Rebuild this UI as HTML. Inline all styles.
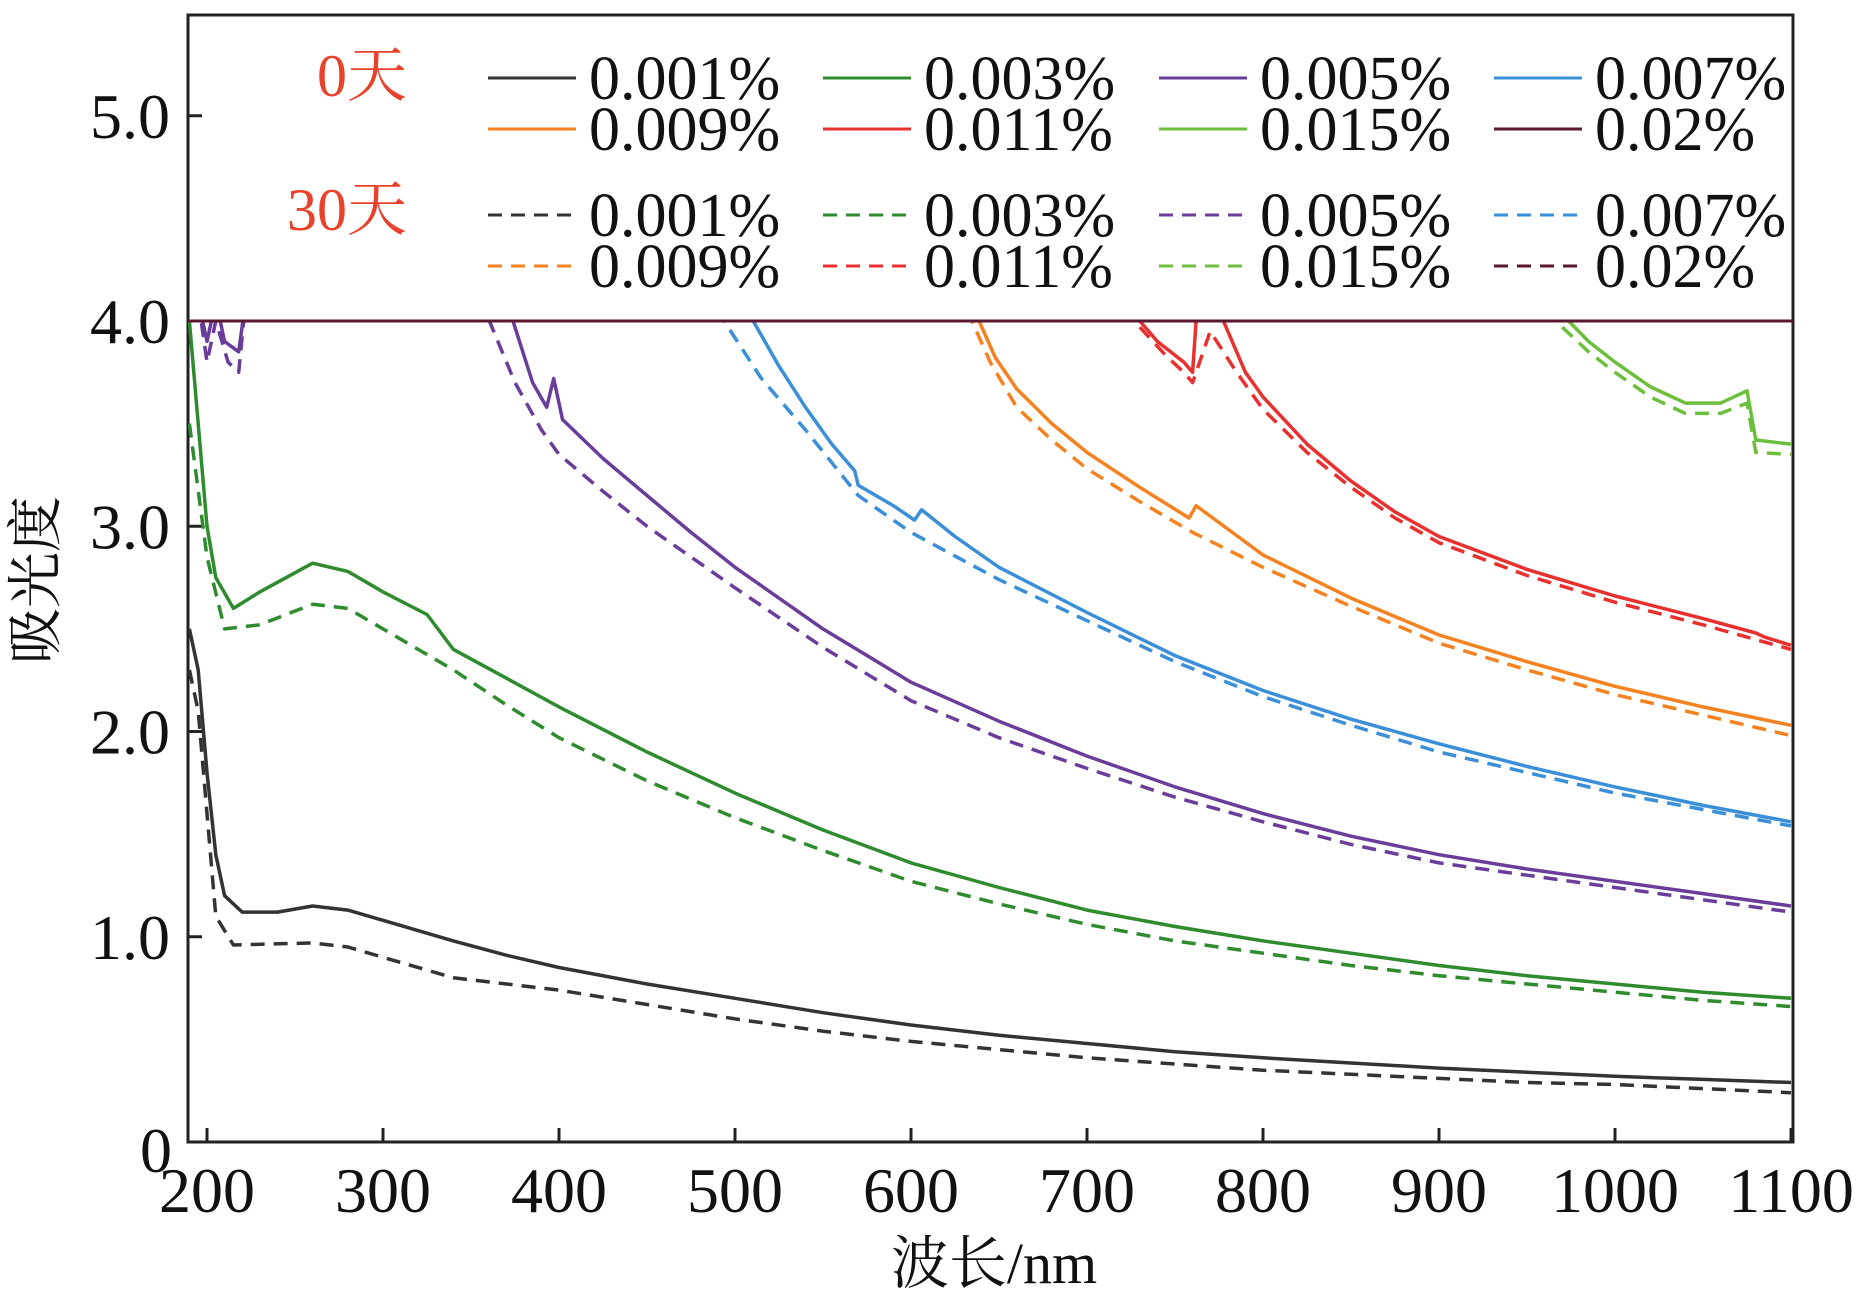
<!DOCTYPE html>
<html><head><meta charset="utf-8"><style>
body{margin:0;background:#fff}
svg{display:block}
text{font-family:"Liberation Serif","Noto Serif CJK SC",serif;fill:#111}
</style></head><body>
<svg id="c" width="1867" height="1298" viewBox="0 0 1867 1298">
<defs><clipPath id="clip"><rect x="188" y="321" width="1605" height="821"/></clipPath></defs>
<rect x="188" y="15" width="1605" height="1127" fill="none" stroke="#222" stroke-width="3"/>
<g id="axes"></g>
<g id="series" clip-path="url(#clip)"></g>
<line x1="188" y1="321" x2="1793" y2="321" stroke="#5a1830" stroke-width="3"/>
<g id="legend"></g>
<text x="55" y="580" font-size="56" text-anchor="middle" transform="rotate(-90 55 580)">吸光度</text>
<text x="994" y="1283" font-size="58" text-anchor="middle">波长/nm</text>
</svg>
<script>
const xTicks=[200,300,400,500,600,700,800,900,1000,1100];
const yTicks=[0,1,2,3,4,5];
const yTickLabels=["0","1.0","2.0","3.0","4.0","5.0"];
const seriesNames=["0.001%","0.003%","0.005%","0.007%","0.009%","0.011%","0.015%","0.02%"];
const seriesColors=["#333333","#2e8b2e","#6a3d9a","#3a8fd8","#f58220","#e8312f","#6cbf3c","#5a1830"];
const s1d0=[[190,2.5],[195,2.3],[200,1.8],[205,1.4],[210,1.2],[220,1.12],[240,1.12],[260,1.15],[280,1.13],[300,1.08],[340,0.98],[370,0.91],[400,0.85],[450,0.77],[500,0.7],[550,0.63],[600,0.57],[650,0.52],[700,0.48],[750,0.44],[800,0.41],[850,0.385],[900,0.36],[950,0.34],[1000,0.32],[1050,0.305],[1100,0.29]];
const s1d30=[[190,2.3],[195,2.1],[200,1.6],[205,1.1],[215,0.96],[260,0.97],[280,0.95],[300,0.9],[340,0.8],[400,0.74],[450,0.67],[500,0.6],[550,0.54],[600,0.49],[650,0.45],[700,0.41],[750,0.38],[800,0.35],[850,0.33],[900,0.31],[950,0.29],[1000,0.28],[1050,0.26],[1100,0.24]];
const s3d0=[[190,4.0],[195,3.5],[200,3.0],[205,2.75],[215,2.6],[230,2.68],[260,2.82],[280,2.78],[300,2.68],[325,2.57],[340,2.4],[370,2.26],[400,2.12],[450,1.9],[500,1.7],[550,1.52],[600,1.36],[650,1.24],[700,1.13],[750,1.05],[800,0.98],[850,0.92],[900,0.86],[950,0.81],[1000,0.77],[1050,0.73],[1100,0.7]];
const s3d30=[[190,3.5],[200,2.85],[210,2.5],[230,2.52],[260,2.62],[280,2.6],[300,2.5],[340,2.3],[370,2.13],[400,1.97],[450,1.76],[500,1.58],[550,1.42],[600,1.27],[650,1.16],[700,1.06],[750,0.98],[800,0.92],[850,0.86],[900,0.81],[950,0.77],[1000,0.73],[1050,0.69],[1100,0.66]];
const s5d0=[[195,4.1],[200,3.9],[205,4.1],[210,3.9],[218,3.85],[222,4.1],[372,4.05],[385,3.7],[393,3.58],[397,3.72],[402,3.52],[425,3.33],[450,3.15],[475,2.97],[500,2.8],[550,2.5],[600,2.24],[650,2.05],[700,1.88],[750,1.73],[800,1.6],[850,1.49],[900,1.4],[950,1.33],[1000,1.27],[1050,1.21],[1100,1.15]];
const s5d30=[[195,4.1],[200,3.8],[205,4.0],[212,3.8],[218,3.75],[222,4.1],[358,4.05],[375,3.7],[390,3.47],[400,3.35],[425,3.17],[450,3.0],[475,2.85],[500,2.7],[550,2.41],[600,2.15],[650,1.97],[700,1.82],[750,1.68],[800,1.56],[850,1.45],[900,1.36],[950,1.3],[1000,1.24],[1050,1.18],[1100,1.12]];
const s7d0=[[507,4.05],[525,3.78],[540,3.58],[555,3.4],[568,3.27],[570,3.2],[590,3.1],[602,3.03],[606,3.08],[625,2.95],[650,2.8],[700,2.58],[750,2.37],[800,2.2],[850,2.06],[900,1.94],[950,1.83],[1000,1.73],[1050,1.64],[1100,1.56]];
const s7d30=[[490,4.05],[515,3.72],[540,3.47],[570,3.15],[600,2.97],[650,2.74],[700,2.54],[750,2.34],[800,2.17],[850,2.03],[900,1.9],[950,1.8],[1000,1.7],[1050,1.62],[1100,1.54]];
const s9d0=[[636,4.05],[648,3.82],[660,3.67],[680,3.5],[700,3.36],[730,3.19],[758,3.04],[762,3.1],[800,2.86],[850,2.65],[900,2.47],[950,2.34],[1000,2.22],[1050,2.12],[1100,2.03]];
const s9d30=[[632,4.05],[645,3.8],[660,3.58],[680,3.42],[700,3.28],[730,3.12],[760,2.97],[800,2.8],[850,2.61],[900,2.43],[950,2.3],[1000,2.18],[1050,2.08],[1100,1.98]];
const s11d0=[[725,4.05],[740,3.9],[755,3.8],[760,3.75],[762,4.0],[775,4.05],[790,3.75],[800,3.63],[825,3.4],[850,3.22],[875,3.07],[900,2.95],[950,2.79],[1000,2.66],[1050,2.55],[1080,2.48],[1085,2.46],[1100,2.42]];
const s11d30=[[730,3.97],[745,3.83],[755,3.75],[760,3.7],[770,3.95],[785,3.75],[800,3.57],[825,3.36],[850,3.19],[875,3.04],[900,2.92],[950,2.76],[1000,2.63],[1050,2.52],[1100,2.4]];
const s15d0=[[968,4.05],[985,3.9],[1000,3.8],[1020,3.68],[1040,3.6],[1060,3.6],[1075,3.66],[1080,3.42],[1100,3.4]];
const s15d30=[[970,3.97],[985,3.85],[1000,3.75],[1020,3.63],[1040,3.55],[1060,3.55],[1075,3.6],[1080,3.36],[1100,3.35]];
const NS="http://www.w3.org/2000/svg";
function xs(v){return 207+(v-200)*1.76;}
function ys(v){return 1142-v*205.25;}
const ax=document.getElementById('axes');
function mk(tag,attrs,parent){const e=document.createElementNS(NS,tag);for(const k in attrs)e.setAttribute(k,attrs[k]);parent.appendChild(e);return e;}
xTicks.forEach(t=>{
 const l=mk('line',{x1:xs(t),x2:xs(t),y1:1142,y2:1128,stroke:'#222','stroke-width':3},ax);
 
 
 const tx=mk('text',{x:xs(t),y:1212,'font-size':64,'text-anchor':'middle'},ax);
 tx.textContent=t;
 
 
});
yTicks.forEach((t,i)=>{
 if(t>0){const l=mk('line',{x1:188,x2:202,y1:ys(t),y2:ys(t),stroke:'#222','stroke-width':3},ax);
 
 }
 const tx=mk('text',{x:t===0?172:170,y:ys(t)+(t===0?30:22),'font-size':64,'text-anchor':'end'},ax);
 tx.textContent=yTickLabels[i];
 
 
});
const sg=document.getElementById('series');
const all=[[s1d0,s1d30],[s3d0,s3d30],[s5d0,s5d30],[s7d0,s7d30],[s9d0,s9d30],[s11d0,s11d30],[s15d0,s15d30]];
all.forEach((pair,i)=>{
 pair.forEach((d,j)=>{
  const p=mk('path',{d:d.map((q,k)=>(k?'L':'M')+xs(q[0]).toFixed(1)+','+ys(q[1]).toFixed(1)).join(''),fill:'none',stroke:seriesColors[i],'stroke-width':3.5,'stroke-dasharray':j?'14 9':'none','stroke-linejoin':'round'},sg);
  
  
 });
});
const lg=document.getElementById('legend');
const colX=[488,823,1159,1494];
const rowY=[[78,129],[215,266]];
const h1=mk('text',{x:407,y:96,'font-size':60,'text-anchor':'end',style:'fill:#e8412c'},lg);
h1.textContent='0天';


const h2=mk('text',{x:407,y:230,'font-size':60,'text-anchor':'end',style:'fill:#e8412c'},lg);
h2.textContent='30天';


[0,1].forEach(g=>{
 seriesNames.forEach((n,i)=>{
  const r=Math.floor(i/4),c=i%4;const y=rowY[g][r];
  const l=mk('line',{x1:colX[c],x2:colX[c]+88,y1:y,y2:y,stroke:seriesColors[i],'stroke-width':3,'stroke-dasharray':g?'14 9':'none'},lg);
  
  
  const t=mk('text',{x:colX[c]+101,y:y+21,'font-size':62},lg);
  t.textContent=n;
  
  
 });
});
</script>
</body></html>
